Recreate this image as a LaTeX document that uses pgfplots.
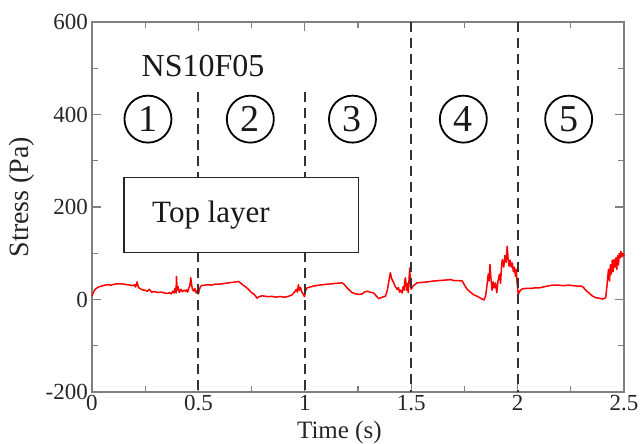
\documentclass[border=0pt]{standalone}
\usepackage{fontspec}
\setmainfont{Liberation Serif}
\usepackage{pgfplots}
\pgfplotsset{compat=1.18}
\definecolor{axgray}{HTML}{7F7F7F}
\definecolor{dashc}{HTML}{333333}
\tikzset{circnum/.style={circle, draw=black, line width=1.8pt, minimum size=47pt, inner sep=0pt, font=\fontsize{38}{40}\selectfont, text=black!90}}
\begin{document}
\begin{tikzpicture}
\begin{axis}[
 scale only axis, width=532pt, height=370pt,
 xmin=0,xmax=2.5,ymin=-200,ymax=600,
 xtick={0,0.5,1,1.5,2,2.5}, xticklabels={0,0.5,1,1.5,2,2.5},
 ytick={-200,0,200,400,600}, yticklabels={-200,0,200,400,600},
 minor xtick={0.25,0.75,1.25,1.75,2.25}, minor ytick={-100,100,300,500},
 tick align=inside, major tick length=9pt, minor tick length=6pt,
 axis line style={axgray, line width=1.4pt},
 every tick/.style={axgray, line width=1.2pt},
 tick label style={font=\fontsize{23}{26}\selectfont, text=black!85, inner sep=1pt},
 /pgf/number format/assume math mode=true,
 xticklabel style={yshift=-2pt},
 yticklabel style={xshift=-3pt},
 xlabel={Time (s)}, ylabel={Stress (Pa)},
 xlabel style={font=\fontsize{25}{28}\selectfont, text=black!85, at={(axis description cs:0.465,0)}, anchor=north, inner sep=0pt, yshift=-29pt},
 ylabel style={font=\fontsize{28}{30}\selectfont, text=black!85, at={(axis description cs:-0.1316,0.527)}, anchor=center, inner sep=0pt},
 clip=false,
]
\coordinate (ll) at (rel axis cs:0,0);
\coordinate (ur) at (rel axis cs:1,1);
\addplot[red, line width=1.5pt, line join=round] coordinates {
(0.000,8) (0.005,14) (0.012,20) (0.020,24) (0.030,27) (0.045,29) (0.060,31) (0.075,32) (0.090,31) (0.105,33)
(0.120,34) (0.138,34) (0.150,33) (0.165,32) (0.180,31) (0.195,30) (0.200,32) (0.205,27) (0.212,38) (0.218,26)
(0.225,24) (0.235,21) (0.248,20) (0.260,18) (0.270,22) (0.280,16) (0.295,17) (0.310,15) (0.325,16) (0.342,14)
(0.355,13) (0.365,15) (0.373,12) (0.380,18) (0.385,14) (0.390,24) (0.395,14) (0.397,50) (0.400,20) (0.405,28)
(0.410,15) (0.418,22) (0.425,17) (0.433,20) (0.440,18) (0.444,21) (0.450,16) (0.455,25) (0.460,30) (0.464,47)
(0.467,35) (0.472,22) (0.478,18) (0.483,24) (0.490,14) (0.495,19) (0.500,12) (0.505,22) (0.510,28) (0.515,30)
(0.530,31) (0.545,32) (0.560,31) (0.577,33) (0.595,33) (0.610,34) (0.626,35) (0.640,36) (0.660,37) (0.675,38)
(0.689,39) (0.700,35) (0.710,31) (0.720,28) (0.735,22) (0.745,17) (0.752,14) (0.760,12) (0.768,8) (0.775,3)
(0.785,6) (0.798,8) (0.815,7) (0.830,6) (0.845,7) (0.861,5) (0.875,6) (0.890,6) (0.905,5) (0.916,6)
(0.930,8) (0.940,10) (0.947,14) (0.955,18) (0.960,22) (0.965,16) (0.970,32) (0.975,20) (0.980,26) (0.986,16)
(0.992,12) (0.999,6) (1.003,18) (1.010,25) (1.025,27) (1.040,29) (1.065,31) (1.085,32) (1.105,33) (1.128,34)
(1.150,35) (1.175,36) (1.185,33) (1.195,27) (1.210,20) (1.222,15) (1.240,12) (1.255,11) (1.269,12) (1.280,16)
(1.293,18) (1.305,16) (1.315,15) (1.324,14) (1.335,8) (1.347,2) (1.360,4) (1.370,6) (1.379,7) (1.388,20)
(1.395,40) (1.402,58) (1.408,45) (1.418,36) (1.425,28) (1.434,22) (1.440,26) (1.445,16) (1.450,20) (1.457,14)
(1.462,28) (1.466,20) (1.470,40) (1.473,47) (1.478,20) (1.482,35) (1.486,15) (1.490,45) (1.493,68) (1.497,30)
(1.500,22) (1.510,30) (1.528,36) (1.550,37) (1.575,38) (1.606,40) (1.630,41) (1.660,42) (1.685,43) (1.700,41)
(1.720,41) (1.740,40) (1.752,30) (1.763,22) (1.780,15) (1.795,10) (1.810,7) (1.825,3) (1.842,-1) (1.850,8)
(1.856,30) (1.862,55) (1.866,40) (1.870,76) (1.875,45) (1.880,20) (1.885,38) (1.890,25) (1.896,36) (1.902,15)
(1.908,40) (1.915,55) (1.920,35) (1.925,75) (1.928,86) (1.935,70) (1.940,95) (1.946,80) (1.951,115) (1.955,90)
(1.960,72) (1.965,85) (1.970,70) (1.975,79) (1.980,60) (1.985,70) (1.990,50) (1.994,65) (1.997,40) (1.999,29)
(2.003,11) (2.010,18) (2.022,23) (2.040,24) (2.060,24) (2.080,25) (2.100,25) (2.120,27) (2.140,29) (2.163,31)
(2.190,31) (2.215,30) (2.240,31) (2.260,30) (2.280,29) (2.300,29) (2.310,26) (2.320,20) (2.336,14) (2.350,8)
(2.367,4) (2.380,3) (2.390,2) (2.400,1) (2.410,3) (2.414,4) (2.420,30) (2.424,50) (2.427,65) (2.432,40)
(2.436,75) (2.440,55) (2.445,85) (2.449,60) (2.453,86) (2.457,70) (2.462,90) (2.466,65) (2.470,95) (2.474,75)
(2.478,98) (2.482,90) (2.485,104) (2.490,92) (2.495,100) (2.500,94)
};
\addplot[dashc, line width=1.8pt, dash pattern=on 10pt off 6pt] coordinates {(0.5,448) (0.5,-200)};
\addplot[dashc, line width=1.8pt, dash pattern=on 10pt off 6pt] coordinates {(1.0,448) (1.0,-200)};
\addplot[dashc, line width=1.8pt, dash pattern=on 10pt off 6pt] coordinates {(1.5,600) (1.5,-200)};
\addplot[dashc, line width=1.8pt, dash pattern=on 10pt off 6pt] coordinates {(2.0,600) (2.0,-200)};
\draw[black!85, line width=1.5pt, fill=white] (axis cs:0.15,101.6) rectangle (axis cs:1.252,264);
\node[anchor=base west, inner sep=0pt, font=\fontsize{31}{34}\selectfont, text=black!90] at (axis cs:0.282,166.5) {Top layer};
\node[font=\fontsize{32}{36}\selectfont, text=black!90] at (axis cs:0.522,504) {NS10F05};
\node[circnum] at (axis cs:0.263,390) {1};
\node[circnum] at (axis cs:0.744,390) {2};
\node[circnum] at (axis cs:1.224,390) {3};
\node[circnum] at (axis cs:1.745,390) {4};
\node[circnum] at (axis cs:2.24,390) {5};
\end{axis}
\pgfresetboundingbox
\path ([shift={(-92pt,-52pt)}]ll) rectangle ([shift={(19pt,22pt)}]ur);
\end{tikzpicture}
\end{document}
